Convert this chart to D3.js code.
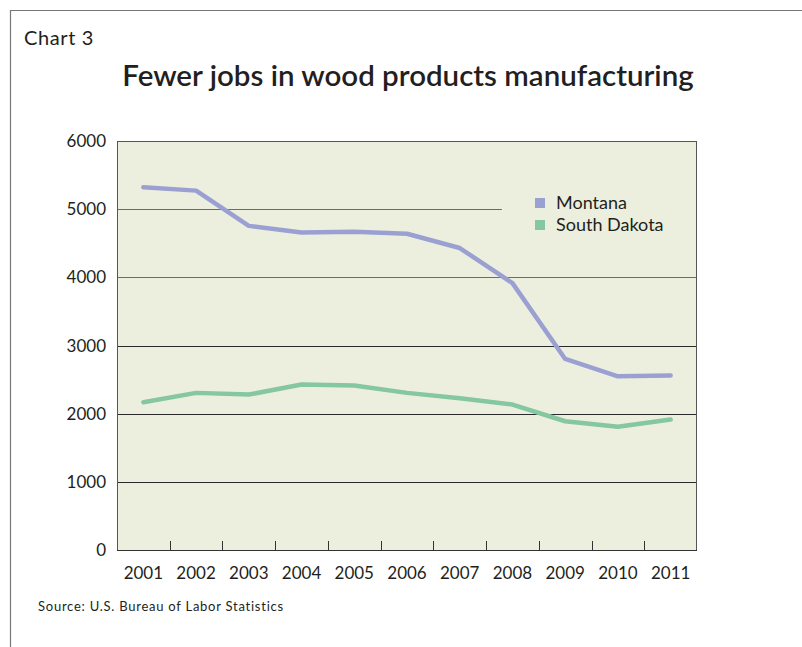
<!DOCTYPE html>
<html><head><meta charset="utf-8">
<script src="https://cdn.jsdelivr.net/npm/d3@7"></script>
<style>body{margin:0;background:#fff}svg{display:block}text{font-family:Lato,"Open Sans",sans-serif;fill:#231f20}</style>
</head><body><svg id="c" width="802" height="647"></svg>
<script>
const years = ["2001","2002","2003","2004","2005","2006","2007","2008","2009","2010","2011"];
const montana = [5320,5272,4755,4658,4668,4640,4430,3915,2803,2548,2560];
const southDakota = [2168,2305,2280,2427,2412,2305,2226,2134,1889,1807,1914];
const yTicks = [0,1000,2000,3000,4000,5000,6000];
const seriesNames = ["Montana","South Dakota"];
const colors = ["#9ba0d3","#84c7a0"];

const svg = d3.select("#c");
const m = {l:117, r:697, t:141, b:550};
// frame
svg.append("line").attr("x1",10).attr("x2",802).attr("y1",10.5).attr("y2",10.5).attr("stroke","#777").attr("stroke-width",1.2);
svg.append("line").attr("x1",10.5).attr("x2",10.5).attr("y1",10).attr("y2",647).attr("stroke","#777").attr("stroke-width",1.2);

svg.append("text").attr("x",24).attr("y",45).attr("font-size",20).attr("letter-spacing",0.6).text("Chart 3");
svg.append("text").attr("x",408).attr("y",86).attr("text-anchor","middle").attr("font-size",29.5).attr("font-weight",600).text("Fewer jobs in wood products manufacturing");

const x = d3.scaleBand().domain(years).range([m.l,m.r]);
const y = d3.scaleLinear().domain([0,6000]).range([m.b,m.t]);

svg.append("rect").attr("x",m.l).attr("y",m.t).attr("width",m.r-m.l).attr("height",m.b-m.t).attr("fill","#edefde");

// gridlines
const legendCut = x(years[7]) + x.bandwidth()*0.3;
yTicks.filter(v=>v>0 && v<6000).forEach(v=>{
  svg.append("line").attr("x1",m.l).attr("x2", v===5000? legendCut : m.r)
    .attr("y1",Math.round(y(v))+0.5).attr("y2",Math.round(y(v))+0.5)
    .attr("stroke", v>=4000? "#6b6b6b":"#2a2a2a").attr("stroke-width",1);
});
// border
svg.append("rect").attr("x",m.l+0.5).attr("y",m.t+0.5).attr("width",m.r-m.l-1).attr("height",m.b-m.t).attr("fill","none").attr("stroke","#555").attr("stroke-width",1);
svg.append("line").attr("x1",m.l).attr("x2",m.r).attr("y1",m.b+0.5).attr("y2",m.b+0.5).attr("stroke","#333");

// x ticks between bands
years.slice(1).forEach(yr=>{
  const xx = Math.round(x(yr))+0.5;
  svg.append("line").attr("x1",xx).attr("x2",xx).attr("y1",m.b-9).attr("y2",m.b).attr("stroke","#333");
});
years.forEach(yr=>{
  svg.append("text").attr("x",x(yr)+x.bandwidth()/2).attr("y",579).attr("text-anchor","middle").attr("font-size",17).text(yr);
});
yTicks.forEach(v=>{
  svg.append("text").attr("x",106).attr("y",y(v)+6).attr("text-anchor","end").attr("font-size",17).text(v);
});

const line = d3.line().x((d,i)=>x(years[i])+x.bandwidth()/2).y(d=>y(d));
[montana,southDakota].forEach((s,i)=>{
  svg.append("path").attr("d",line(s)).attr("fill","none").attr("stroke",colors[i]).attr("stroke-width",4.5).attr("stroke-linecap","round").attr("stroke-linejoin","round");
});

// legend
seriesNames.forEach((n,i)=>{
  const ly = 198 + i*22;
  svg.append("rect").attr("x",535).attr("y",ly).attr("width",10).attr("height",10).attr("fill",colors[i]);
  svg.append("text").attr("x",556).attr("y",ly+11).attr("font-size",18).text(n);
});

svg.append("text").attr("x",38).attr("y",611).attr("font-size",13).attr("letter-spacing",0.75).text("Source: U.S. Bureau of Labor Statistics");
</script></body></html>
